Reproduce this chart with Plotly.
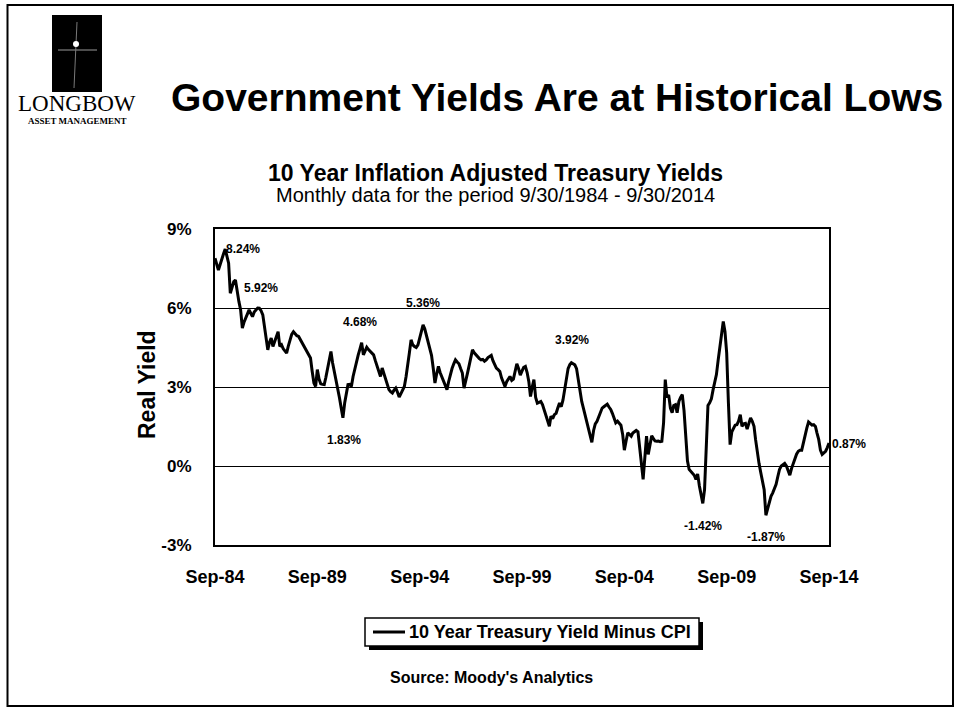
import pandas as pd
import plotly.graph_objects as go

# ---------------- data ----------------
real_yield = [
    7.89, 7.60, 7.44, 7.65, 7.82, 8.05, 8.24, 8.00, 7.70, 6.56, 6.80, 7.00,   # Sep84-Aug85
    7.06, 6.57, 6.25, 5.93, 5.24, 5.45, 5.62, 5.80, 5.93, 5.80, 5.67, 5.85,   # Sep85-
    5.93, 6.00, 5.99, 5.90, 5.74, 5.35, 4.92, 4.41, 4.70, 4.86, 4.54, 4.75,   # Sep86-
    4.95, 5.10, 4.54, 4.60, 4.45, 4.35, 4.29, 4.55, 4.79, 5.00, 5.10, 5.00,   # Sep87-
    4.95, 4.92, 4.80, 4.67, 4.60, 4.48, 4.35, 4.20, 4.10, 3.60, 3.15, 3.02,   # Sep88-
    3.66, 3.30, 3.12, 3.10, 3.09, 3.35, 3.66, 4.00, 4.35, 3.91, 3.60, 3.28,   # Sep89-
    2.90, 2.58, 2.20, 1.83, 2.39, 2.75, 3.09, 3.10, 3.02, 3.40, 3.70, 3.95,   # Sep90-
    4.22, 4.45, 4.68, 4.22, 4.40, 4.51, 4.42, 4.35, 4.30, 4.22, 4.00, 3.78,   # Sep91-
    3.60, 3.40, 3.72, 3.50, 3.28, 3.10, 2.90, 2.82, 2.77, 2.88, 2.96, 2.80,   # Sep92-
    2.62, 2.75, 2.90, 3.02, 3.40, 3.78, 4.30, 4.79, 4.60, 4.54, 4.50, 4.60,   # Sep93-
    4.85, 5.10, 5.36, 5.20, 4.95, 4.70, 4.45, 4.20, 3.70, 3.15, 3.50, 3.78,   # Sep94-
    3.55, 3.37, 3.20, 3.05, 2.90, 3.20, 3.50, 3.70, 3.88, 4.03, 3.95, 3.88,   # Sep95-
    3.70, 3.53, 2.96, 3.20, 3.53, 3.80, 4.10, 4.41, 4.30, 4.22, 4.15, 4.08,   # Sep96-
    4.03, 4.05, 3.98, 4.03, 4.12, 4.16, 4.20, 4.00, 3.85, 3.72, 3.66, 3.59,   # Sep97-
    3.35, 3.15, 3.02, 3.20, 3.30, 3.40, 3.25, 3.30, 3.60, 3.88, 3.70, 3.45,   # Sep98-
    3.60, 3.75, 3.78, 3.55, 3.20, 2.64, 3.00, 3.28, 2.60, 2.39, 2.42, 2.45,   # Sep99-
    2.33, 2.10, 1.90, 1.70, 1.51, 1.89, 1.80, 1.95, 2.00, 2.20, 2.39, 2.25,   # Sep00-
    2.50, 2.90, 3.30, 3.70, 3.85, 3.92, 3.88, 3.84, 3.70, 3.28, 2.80, 2.45,   # Sep01-
    2.20, 1.95, 1.70, 1.45, 1.20, 0.90, 1.35, 1.60, 1.70, 1.85, 2.05, 2.20,   # Sep02-
    2.25, 2.30, 2.35, 2.24, 2.15, 2.00, 1.85, 1.64, 1.70, 1.62, 1.55, 1.20,   # Sep03-
    0.60, 0.95, 1.26, 1.20, 1.13, 1.25, 1.32, 1.35, 1.30, 0.60, 0.10, -0.51,  # Sep04-
    0.50, 1.13, 0.44, 0.80, 1.15, 1.05, 0.95, 0.94, 0.95, 0.92, 0.94, 1.64,   # Sep05-
    3.28, 2.60, 2.70, 2.20, 2.02, 2.30, 2.33, 2.02, 2.45, 2.60, 2.71, 2.10,   # Sep06-
    1.20, 0.20, -0.13, -0.20, -0.30, -0.35, -0.51, -0.30, -0.76, -1.10, -1.42, -0.90,  # Sep07-
    0.90, 2.30, 2.40, 2.55, 2.90, 3.20, 3.47, 4.00, 4.54, 5.00, 5.49, 5.10,   # Sep08-
    4.30, 2.40, 0.81, 1.30, 1.45, 1.55, 1.57, 1.70, 1.95, 1.51, 1.60, 1.62,   # Sep09-
    1.40, 1.60, 1.83, 1.70, 1.51, 1.00, 0.45, 0.10, -0.25, -0.60, -0.90, -1.87,  # Sep10-
    -1.60, -1.30, -1.15, -1.02, -0.85, -0.70, -0.40, -0.13, 0.00, 0.06, 0.10, 0.00,  # Sep11-
    -0.20, -0.35, -0.10, 0.12, 0.30, 0.45, 0.56, 0.60, 0.60, 0.90, 1.10, 1.45,  # Sep12-
    1.67, 1.60, 1.55, 1.57, 1.50, 1.25, 1.00, 0.60, 0.44, 0.50, 0.56, 0.70,   # Sep13-
    0.87,                                                                      # Sep14
]

x_tick_labels = ["Sep-84", "Sep-89", "Sep-94", "Sep-99", "Sep-04", "Sep-09", "Sep-14"]
y_tick_values = [-3, 0, 3, 6, 9]
y_tick_labels = ["-3%", "0%", "3%", "6%", "9%"]

point_labels = ["8.24%", "5.92%", "4.68%", "5.36%", "1.83%", "3.92%", "-1.42%", "-1.87%", "0.87%"]

series_name = "10 Year Treasury Yield Minus CPI"

try:
    months = pd.date_range("1984-09-30", periods=len(real_yield), freq="ME")
except Exception:
    months = pd.date_range("1984-09-30", periods=len(real_yield), freq="M")
x_tick_dates = pd.to_datetime(["30-" + t for t in x_tick_labels], format="%d-%b-%y")

# ---------------- layout geometry (pixels -> paper) ----------------
W, H = 961, 723
L, R, T, B = 215, 132, 229, 178
PW, PH = W - L - R, H - T - B


def px(X):
    return (X - L) / PW


def py(Y):
    return (H - B - Y) / PH


SANS = "Liberation Sans, Arial, sans-serif"
SERIF = "Liberation Serif, Times New Roman, serif"

fig = go.Figure()
fig.add_trace(go.Scatter(
    x=months, y=real_yield, mode="lines", name=series_name,
    line=dict(color="black", width=3), showlegend=False,
))

annotations = []
# data labels (text positions in pixels of the original)
label_pos = [(243, 249, "center"), (260.5, 288, "center"), (360, 322, "center"),
             (423, 303, "center"), (344, 440, "center"), (571.5, 340, "center"),
             (702.5, 526, "center"), (766, 537, "center"), (831, 444, "left")]
for txt, (X, Y, anc) in zip(point_labels, label_pos):
    annotations.append(dict(x=px(X), y=py(Y), xref="paper", yref="paper", text="<b>%s</b>" % txt,
                            showarrow=False, xanchor=anc, yanchor="middle", borderpad=0,
                            font=dict(family=SANS, size=12, color="black")))

annotations += [
    dict(x=px(557), y=py(97), xref="paper", yref="paper", showarrow=False,
         text="<b>Government Yields Are at Historical Lows</b>", xanchor="center", yanchor="middle",
         font=dict(family=SANS, size=39, color="black")),
    dict(x=px(495), y=py(173), xref="paper", yref="paper", showarrow=False,
         text="<b>10 Year Inflation Adjusted Treasury Yields</b>", xanchor="center", yanchor="middle",
         font=dict(family=SANS, size=23, color="black")),
    dict(x=px(495), y=py(195), xref="paper", yref="paper", showarrow=False,
         text="Monthly data for the period 9/30/1984 - 9/30/2014", xanchor="center", yanchor="middle",
         font=dict(family=SANS, size=20, color="black")),
    dict(x=px(147), y=py(385), xref="paper", yref="paper", showarrow=False, textangle=-90,
         text="<b>Real Yield</b>", xanchor="center", yanchor="middle",
         font=dict(family=SANS, size=23, color="black")),
    dict(x=px(491), y=py(677), xref="paper", yref="paper", showarrow=False,
         text="<b>Source: Moody's Analytics</b>", xanchor="center", yanchor="middle",
         font=dict(family=SANS, size=16, color="black")),
    dict(x=px(77), y=py(103), xref="paper", yref="paper", showarrow=False, borderpad=0,
         text="LONGBOW", xanchor="center", yanchor="middle",
         font=dict(family=SERIF, size=23, color="black")),
    dict(x=px(77), y=py(121), xref="paper", yref="paper", showarrow=False, borderpad=0,
         text="<b>ASSET MANAGEMENT</b>", xanchor="center", yanchor="middle",
         font=dict(family=SERIF, size=9, color="black")),
    # legend entry text
    dict(x=px(408), y=py(632), xref="paper", yref="paper", showarrow=False, borderpad=0,
         text="<b>%s</b>" % series_name, xanchor="left", yanchor="middle",
         font=dict(family=SANS, size=18, color="black")),
]

shapes = [
    # outer slide frame
    dict(type="rect", xref="paper", yref="paper", x0=px(7.5), x1=px(953), y0=py(706), y1=py(5),
         line=dict(color="black", width=2), fillcolor="rgba(0,0,0,0)", layer="below"),
    # logo block
    dict(type="rect", xref="paper", yref="paper", x0=px(52), x1=px(102), y0=py(92), y1=py(15),
         line=dict(color="black", width=0), fillcolor="black", layer="below"),
    dict(type="line", xref="paper", yref="paper", x0=px(58), x1=px(97), y0=py(50), y1=py(50),
         line=dict(color="#9a9a9a", width=1), layer="above"),
    dict(type="line", xref="paper", yref="paper", x0=px(77), x1=px(74), y0=py(22), y1=py(88),
         line=dict(color="#7a7a7a", width=1), layer="above"),
    dict(type="circle", xref="paper", yref="paper", x0=px(73), x1=px(79), y0=py(47), y1=py(41),
         line=dict(color="white", width=0), fillcolor="white", layer="above"),
    # legend: shadow, box and key line
    dict(type="rect", xref="paper", yref="paper", x0=px(369), x1=px(703), y0=py(650), y1=py(622),
         line=dict(color="black", width=0), fillcolor="black", layer="below"),
    dict(type="rect", xref="paper", yref="paper", x0=px(365), x1=px(699), y0=py(646), y1=py(618),
         line=dict(color="black", width=1.5), fillcolor="white", layer="below"),
    dict(type="line", xref="paper", yref="paper", x0=px(373), x1=px(405), y0=py(632), y1=py(632),
         line=dict(color="black", width=3), layer="above"),
]

fig.update_layout(
    width=W, height=H,
    margin=dict(l=L, r=R, t=T, b=B, pad=0),
    paper_bgcolor="white", plot_bgcolor="white",
    font=dict(family=SANS, color="black"),
    showlegend=False,
    annotations=annotations,
    shapes=shapes,
    xaxis=dict(type="date", range=[months[0], months[-1]],
               tickvals=x_tick_dates, ticktext=["<b>%s</b>" % t for t in x_tick_labels],
               tickfont=dict(family=SANS, size=18, color="black"),
               showgrid=False, zeroline=False, ticks="", ticklabelstandoff=14,
               showline=True, linecolor="black", linewidth=2, mirror=True),
    yaxis=dict(range=[-3, 9], tickvals=y_tick_values,
               ticktext=["<b>%s</b>" % t for t in y_tick_labels],
               tickfont=dict(family=SANS, size=17, color="black"),
               showgrid=True, gridcolor="black", gridwidth=1.3, zeroline=False,
               ticks="", ticklabelstandoff=18,
               showline=True, linecolor="black", linewidth=2, mirror=True),
)

fig.write_html("out.html", config={"displayModeBar": False},
               post_script="document.body.style.margin='0px';document.body.style.overflow='hidden';")
